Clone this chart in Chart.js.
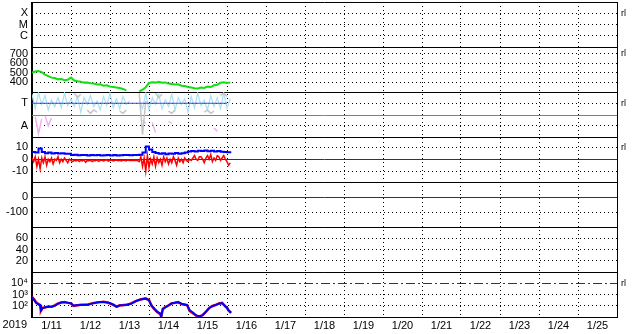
<!DOCTYPE html>
<html>
<head>
<meta charset="utf-8">
<script src="https://cdn.jsdelivr.net/npm/chart.js@4.4.1/dist/chart.umd.min.js"></script>
<style>
  html, body { margin: 0; padding: 0; background: #fff; }
</style>
</head>
<body>
<canvas id="myChart" width="633" height="334"></canvas>
<script>
// x axis: hours since 1/11 00:00, one label per day
const dayLabels = ['1/11', '1/12', '1/13', '1/14', '1/15', '1/16', '1/17', '1/18', '1/19', '1/20', '1/21', '1/22', '1/23', '1/24', '1/25'];
const yearLabel = '2019';

// tick labels of the seven panels (top to bottom)
const flagLabels = { 3: 'X', 2: 'M', 1: 'C' };
const levelTicks = [400, 500, 600, 700];
const statusLabels = { 3: 'T', 1: 'A' };
const diffTicks = [-10, 0, 10];
const offsetTicks = [-100, 0];
const pctTicks = [20, 40, 60];
const logTicks = [100, 1000, 10000];
const logTickLabels = ['10²', '10³', '10⁴'];

// series sampled every 2 h from 1/11 00:00
const levelValues = [502, 514, 520, 508, 482, 466, 450, 446, 432, 436, 424, 428, 452, 420, 412, 408, 398, 400, 392, 388,
  378, 380, 366, 370, 356, 352, 346, 342, 332, 316, null, null, null, 306, 324, 350, 394, 402, 398, 406,
  396, 400, 388, 384, 378, 380, 366, 362, 352, 348, 340, 336, 346, 342, 356, 352, 370, 376, 396, 402, 394, 398];
const statusValues = [3.8, 2.5, 3.9, 2.9, 3.7, 2.4, 3.3, 2.7, 3.5, 2.6, 3.9, 2.8, 3.4, 2.7, 3.6, 2.2, 3.5, 2.9, 3.7, 2.7,
  3.2, 2.4, 3.6, 2.8, 3.9, 2.6, 3.4, 2.5, 3.6, 2.9, 3.2, null, null, 3.3, 2.5, 3.9, 2.4, 3.5, 2.9, 3.8,
  2.5, 3.3, 2.7, 3.8, 2.4, 3.5, 2.9, 3.4, 2.2, 3.6, 2.6, 3.9, 2.8, 3.3, 2.4, 3.7, 2.7, 3.5, 2.5, 3.9, 2.6, 3.4];
const diffBlue = [6, 5.5, 9, 6, 5, 5.5, 4.8, 5.2, 4.8, 5, 4.6, 4.5, 3.5, 3.8, 3.2, 3.6, 3.4, 3, 3.5, 3.2,
  3.4, 3, 3.3, 3.5, 3.1, 3.4, 3, 3.2, 3.4, 3.5, 3.3, 3.6, 3.4, 3.8, 5.5, 10.5, 8, 6, 5.2, 4.5,
  5, 4.2, 4.8, 4.5, 5.2, 4.6, 5, 5.6, 6.5, 6.8, 6.4, 7, 6.8, 7.2, 6.6, 7, 6.5, 6.8, 6.2, 6, 5.8, 5];

// sampled every hour
const diffRed = [1, -2, 2, -6, 0, -8, 1, -3, 2, -5, 0, -2, 1, -4, 0, -1, 2, -3, 0, -2,
  1, -1, -3, 0, -1, -2, -1, -1.5, -0.5, -2, -1, -1.5, -0.5, -2.5, -1, -1.2, -0.8, -2, -1, -1.3,
  -0.6, -1.8, -1, -0.8, -1.5, -1, -0.5, -1.6, -1, -0.7, -1.4, -1, -0.6, -1.2, -0.9, -1.5, -0.8, -1, -1.2, -0.7,
  -1, -1.1, -0.9, -1, -0.8, -1.2, -2, 2, -6, 1, -10, 3, -7, 0, -4, 2, -6, 1, -3, 0,
  -5, 2, -2, 1, -4, 0, -3, 2, -1, -5, 1, -2, 0, -3, 1, -1, -2, 0, -1, 1,
  3, 0, -1, 2, 2, 0, -3, 1, 3, 0, 4, -2, 1, -1, 3, 2, -1, 1, 3, 0, -2, -5, -3];

// sparse traces in the status panel
const tLineHours = [0, 120];
const tLineValues = [3, 3];
const grayHours = [26, 28, 30, 32, 34, 36, 38, 40, 42, 54, 56, 58, 60, 66, 68, 70, 72, 76, 78, 80, 82, 84, 86, 88, 90, 106, 108, 110, 112, 114, 116, 118, 120];
const grayValues = [3.9, 3.5, 3.8, null, 2.4, 2.1, 2.4, 2.2, null, 2.3, 2.1, 2.4, null, 3.9, 0.2, 3.2, null, 3.9, 3.5, 3.8, null, 2.3, 2.1, 2.4, null, 2.2, 2.4, 2.1, 2.3, null, 3.7, 3.9, 3.6];
const pinkHours = [2, 4, 6, 7, 8, 10, 12, 13, 68, 70, 71, 74, 76, 77, 84, 86, 87, 112, 114];
const pinkValues = [1.8, 0.3, 1.6, null, 1.9, 1.0, 1.7, null, 1.5, 1.2, null, 1.3, 0.4, null, 1.4, 1.2, null, 0.8, 0.5];

// log panel
const logHours = [0, 1.5, 2.5, 4, 5, 5.5, 6.5, 8, 10, 12, 14, 16, 18, 20, 22, 24, 25.5, 27, 30, 34,
  38, 41, 44, 47, 50, 52, 54, 58, 61, 64, 67, 70, 72, 73.5, 75, 77, 79, 79.5, 80.5, 82,
  84, 86, 88, 90, 92, 94, 95.5, 97, 99, 101, 103, 105, 107, 109, 111, 113, 115, 117, 119, 120, 121, 122.5];
const logBlue = [600, 300, 180, 130, 120, 40, 60, 75, 80, 82, 100, 150, 200, 205, 190, 160, 100, 110, 115, 120,
  170, 210, 220, 190, 130, 80, 110, 115, 150, 270, 360, 450, 300, 100, 60, 30, 20, 11, 50, 70,
  110, 160, 190, 200, 150, 130, 110, 40, 25, 14, 12, 14, 30, 60, 90, 120, 150, 170, 90, 60, 40, 25];
const logRed = [620, 350, 200, 140, 110, 35, 65, 70, 85, 80, 110, 160, 190, 210, 180, 170, 95, 105, 120, 125,
  180, 200, 230, 185, 120, 85, 105, 120, 160, 260, 380, 430, 320, 110, 55, 28, 18, 10, 55, 75,
  105, 170, 180, 210, 140, 125, 115, 35, 22, 13, 11, 15, 28, 65, 95, 115, 160, 180, 85, 70, 38, 22];

// reference lines: [axis, value, colour, dash]
const refLines = [
  ['yStatus', 2, '#808080', []],
  ['yDiff', 0, '#b00000', []],
  ['yOffset', 0, '#b00000', []],
  ['yLog', 10000, '#b00000', [9, 3, 2, 3]]
];

// small markers on the right side
const rlMarks = [['yFlag', 3], ['yLevel', 700], ['yStatus', 3], ['yDiff', 10], ['yLog', 10000]];

const FONT = "'Liberation Sans', 'DejaVu Sans', Arial, sans-serif";
Chart.defaults.font.family = FONT;
Chart.defaults.font.size = 11;
Chart.defaults.color = '#000';

const dotted = [1, 3];

function pts(hours, values) {
  return values.map((v, i) => ({ x: hours[i], y: v }));
}
function every(step, values) {
  return values.map((v, i) => ({ x: i * step, y: v }));
}
function labelMap(ticks, texts) {
  const m = {};
  ticks.forEach((t, i) => { m[t] = texts ? texts[i] : String(t); });
  return m;
}
function noEdgePadding(s) {
  s.paddingTop = 0;
  s.paddingBottom = 0;
  s.paddingLeft = 0;
  s.paddingRight = 0;
}

function panelAxis(id, weight, min, max, ticks, labels, type) {
  const skip = refLines.filter(r => r[0] === id).map(r => r[1]);
  return {
    type: type || 'linear',
    position: 'left',
    stack: 'panels',
    stackWeight: 1,
    weight: weight,
    min: min,
    max: max,
    afterBuildTicks: s => { s.ticks = [min, ...ticks, max].map(v => ({ value: v })); },
    afterFit: s => { s.width = 32; noEdgePadding(s); },
    ticks: { autoSkip: false, padding: 4, callback: v => labels[v] || '' },
    grid: {
      drawTicks: false,
      color: c => (c.tick && skip.includes(c.tick.value)) ? 'rgba(0,0,0,0)' : '#000'
    },
    border: {
      color: '#000',
      dash: c => {
        if (c.type !== 'tick') return [];
        const v = c.tick.value;
        return (v === min || v === max) ? [] : dotted;
      }
    }
  };
}

const overlay = {
  id: 'overlay',
  beforeDatasetsDraw(chart) {
    const { ctx, chartArea, scales } = chart;
    ctx.save();
    ctx.lineWidth = 1;
    refLines.forEach(([id, v, color, dash]) => {
      const y = Math.round(scales[id].getPixelForValue(v)) + 0.5;
      ctx.strokeStyle = color;
      ctx.setLineDash(dash);
      ctx.beginPath();
      ctx.moveTo(chartArea.left, y);
      ctx.lineTo(chartArea.right, y);
      ctx.stroke();
    });
    ctx.restore();
  },
  afterDraw(chart) {
    const { ctx, chartArea, scales } = chart;
    ctx.save();
    ctx.fillStyle = '#000';
    ctx.font = '11px ' + FONT;
    ctx.textAlign = 'right';
    ctx.textBaseline = 'middle';
    ctx.fillText(yearLabel, scales.x.left - 5, scales.x.top + 8);
    ctx.font = '9px ' + FONT;
    ctx.textAlign = 'left';
    rlMarks.forEach(([id, v]) => ctx.fillText('rl', chartArea.right + 4, scales[id].getPixelForValue(v)));
    ctx.restore();
  }
};

const ctx = document.getElementById('myChart');

const chart1 = new Chart(ctx, {
  type: 'line',
  data: {
    datasets: [
      { data: pts(tLineHours, tLineValues), yAxisID: 'yStatus', borderColor: '#4646e6', borderWidth: 1 },
      { data: pts(grayHours, grayValues), yAxisID: 'yStatus', borderColor: '#c4c4c4', borderWidth: 1.5 },
      { data: every(2, statusValues), yAxisID: 'yStatus', borderColor: '#a8e2f4', borderWidth: 1.2 },
      { data: pts(pinkHours, pinkValues), yAxisID: 'yStatus', borderColor: '#f0b0f0', borderWidth: 1.5 },
      { data: every(2, levelValues), yAxisID: 'yLevel', borderColor: '#10e010', borderWidth: 2 },
      { data: every(2, diffBlue), yAxisID: 'yDiff', borderColor: '#0000ff', borderWidth: 2, stepped: true },
      { data: every(1, diffRed), yAxisID: 'yDiff', borderColor: '#ff0000', borderWidth: 1.5 },
      { data: pts(logHours, logBlue), yAxisID: 'yLog', borderColor: '#0000ff', borderWidth: 2 },
      { data: pts(logHours, logRed), yAxisID: 'yLog', borderColor: '#ff0000', borderWidth: 2.5 }
    ]
  },
  options: {
    responsive: false,
    animation: false,
    devicePixelRatio: 1,
    layout: { padding: { top: 2, right: 16, bottom: 0, left: 0 } },
    elements: { point: { radius: 0 }, line: { tension: 0 } },
    plugins: { legend: { display: false }, tooltip: { enabled: false } },
    scales: {
      x: {
        type: 'linear',
        position: 'bottom',
        min: 0,
        max: dayLabels.length * 24,
        afterBuildTicks: s => { s.ticks = dayLabels.concat(['']).map((d, i) => ({ value: i * 24 })); },
        afterFit: s => { s.height = 17; noEdgePadding(s); },
        ticks: { autoSkip: false, maxRotation: 0, padding: 2, labelOffset: 19.5, callback: (v, i) => dayLabels[i] || '' },
        grid: { drawTicks: false, color: '#000' },
        border: { color: '#000', dash: c => (c.type === 'tick' && c.index > 0 && c.index < dayLabels.length) ? dotted : [] }
      },
      yFlag: panelAxis('yFlag', 7, 0, 4, [1, 2, 3], flagLabels),
      yLevel: panelAxis('yLevel', 6, 300, 770, levelTicks, labelMap(levelTicks)),
      yStatus: panelAxis('yStatus', 5, 0, 4, [1, 2, 3], statusLabels),
      yDiff: panelAxis('yDiff', 4, -19, 18.5, diffTicks, labelMap(diffTicks)),
      yOffset: panelAxis('yOffset', 3, -200, 100, offsetTicks, labelMap(offsetTicks)),
      yPct: panelAxis('yPct', 2, 0, 80, pctTicks, labelMap(pctTicks)),
      yLog: panelAxis('yLog', 1, 10, 100000, logTicks, labelMap(logTicks, logTickLabels), 'logarithmic')
    }
  },
  plugins: [overlay]
});
</script>
</body>
</html>
